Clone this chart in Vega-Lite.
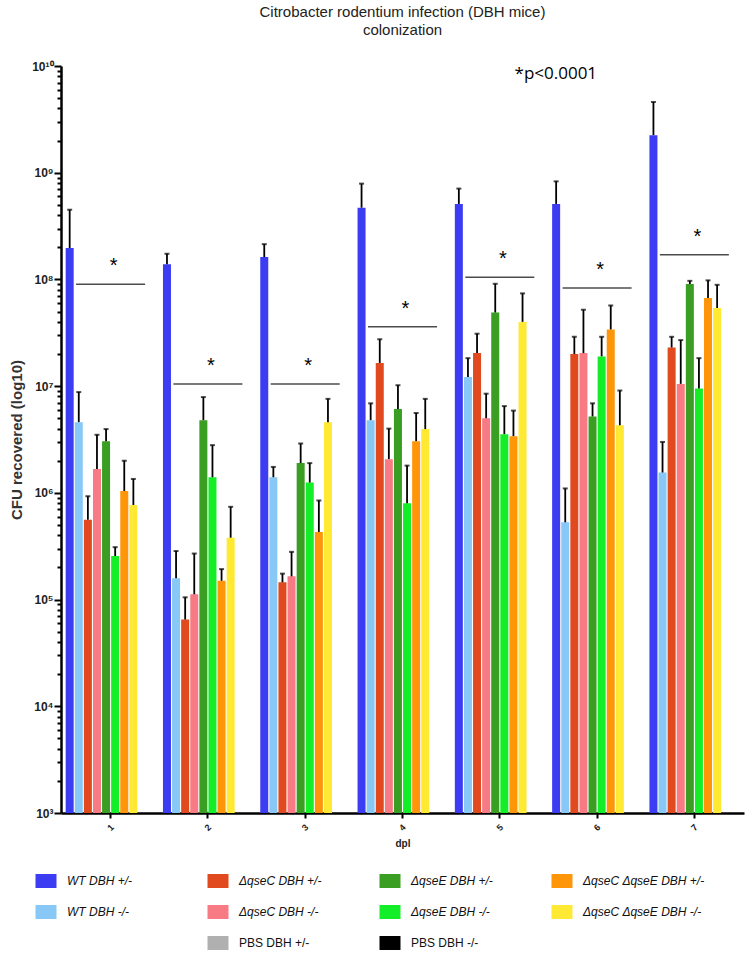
{
  "$schema": "https://vega.github.io/schema/vega-lite/v6.json",
  "width": 683,
  "height": 747,
  "padding": {"left": 9, "top": 5, "right": 5, "bottom": 0},
  "config": {"view": {"stroke": null}, "font": "Liberation Sans"},
  "title": {
    "text": ["Citrobacter rodentium infection (DBH mice)", "colonization"],
    "fontSize": 15,
    "fontWeight": "normal",
    "font": "Liberation Sans",
    "color": "#222222",
    "lineHeight": 18,
    "offset": 22
  },
  "datasets": {
    "bars": [
      {"d": "1", "g": "WT DBH +/-", "v": 1.97e8, "e": 4.5e8},
      {"d": "1", "g": "WT DBH -/-", "v": 4.6e6, "e": 8.8e6},
      {"d": "1", "g": "ΔqseC DBH +/-", "v": 5.6e5, "e": 9.3e5},
      {"d": "1", "g": "ΔqseC DBH -/-", "v": 1.67e6, "e": 3.5e6},
      {"d": "1", "g": "ΔqseE DBH +/-", "v": 3.05e6, "e": 3.96e6},
      {"d": "1", "g": "ΔqseE DBH -/-", "v": 2.56e5, "e": 3.1e5},
      {"d": "1", "g": "ΔqseC ΔqseE DBH +/-", "v": 1.04e6, "e": 2.0e6},
      {"d": "1", "g": "ΔqseC ΔqseE DBH -/-", "v": 7.7e5, "e": 1.35e6},
      {"d": "2", "g": "WT DBH +/-", "v": 1.39e8, "e": 1.74e8},
      {"d": "2", "g": "WT DBH -/-", "v": 1.58e5, "e": 2.85e5},
      {"d": "2", "g": "ΔqseC DBH +/-", "v": 6.5e4, "e": 1.05e5},
      {"d": "2", "g": "ΔqseC DBH -/-", "v": 1.12e5, "e": 2.7e5},
      {"d": "2", "g": "ΔqseE DBH +/-", "v": 4.8e6, "e": 7.9e6},
      {"d": "2", "g": "ΔqseE DBH -/-", "v": 1.4e6, "e": 2.8e6},
      {"d": "2", "g": "ΔqseC ΔqseE DBH +/-", "v": 1.5e5, "e": 1.93e5},
      {"d": "2", "g": "ΔqseC ΔqseE DBH -/-", "v": 3.8e5, "e": 7.4e5},
      {"d": "3", "g": "WT DBH +/-", "v": 1.62e8, "e": 2.14e8},
      {"d": "3", "g": "WT DBH -/-", "v": 1.4e6, "e": 1.75e6},
      {"d": "3", "g": "ΔqseC DBH +/-", "v": 1.45e5, "e": 1.75e5},
      {"d": "3", "g": "ΔqseC DBH -/-", "v": 1.65e5, "e": 2.8e5},
      {"d": "3", "g": "ΔqseE DBH +/-", "v": 1.9e6, "e": 2.9e6},
      {"d": "3", "g": "ΔqseE DBH -/-", "v": 1.25e6, "e": 1.9e6},
      {"d": "3", "g": "ΔqseC ΔqseE DBH +/-", "v": 4.3e5, "e": 8.5e5},
      {"d": "3", "g": "ΔqseC ΔqseE DBH -/-", "v": 4.6e6, "e": 7.6e6},
      {"d": "4", "g": "WT DBH +/-", "v": 4.7e8, "e": 7.9e8},
      {"d": "4", "g": "WT DBH -/-", "v": 4.8e6, "e": 6.9e6},
      {"d": "4", "g": "ΔqseC DBH +/-", "v": 1.65e7, "e": 2.75e7},
      {"d": "4", "g": "ΔqseC DBH -/-", "v": 2.07e6, "e": 4.0e6},
      {"d": "4", "g": "ΔqseE DBH +/-", "v": 6.1e6, "e": 1.02e7},
      {"d": "4", "g": "ΔqseE DBH -/-", "v": 8.0e5, "e": 1.8e6},
      {"d": "4", "g": "ΔqseC ΔqseE DBH +/-", "v": 3.05e6, "e": 5.6e6},
      {"d": "4", "g": "ΔqseC ΔqseE DBH -/-", "v": 3.96e6, "e": 7.6e6},
      {"d": "5", "g": "WT DBH +/-", "v": 5.1e8, "e": 7.1e8},
      {"d": "5", "g": "WT DBH -/-", "v": 1.22e7, "e": 1.83e7},
      {"d": "5", "g": "ΔqseC DBH +/-", "v": 2.04e7, "e": 3.1e7},
      {"d": "5", "g": "ΔqseC DBH -/-", "v": 5.0e6, "e": 8.5e6},
      {"d": "5", "g": "ΔqseE DBH +/-", "v": 4.9e7, "e": 9.1e7},
      {"d": "5", "g": "ΔqseE DBH -/-", "v": 3.55e6, "e": 6.5e6},
      {"d": "5", "g": "ΔqseC ΔqseE DBH +/-", "v": 3.4e6, "e": 5.9e6},
      {"d": "5", "g": "ΔqseC ΔqseE DBH -/-", "v": 4.0e7, "e": 7.4e7},
      {"d": "6", "g": "WT DBH +/-", "v": 5.1e8, "e": 8.3e8},
      {"d": "6", "g": "WT DBH -/-", "v": 5.3e5, "e": 1.1e6},
      {"d": "6", "g": "ΔqseC DBH +/-", "v": 2.0e7, "e": 2.9e7},
      {"d": "6", "g": "ΔqseC DBH -/-", "v": 2.04e7, "e": 5.2e7},
      {"d": "6", "g": "ΔqseE DBH +/-", "v": 5.2e6, "e": 6.9e6},
      {"d": "6", "g": "ΔqseE DBH -/-", "v": 1.9e7, "e": 2.9e7},
      {"d": "6", "g": "ΔqseC ΔqseE DBH +/-", "v": 3.4e7, "e": 5.7e7},
      {"d": "6", "g": "ΔqseC ΔqseE DBH -/-", "v": 4.3e6, "e": 9.1e6},
      {"d": "7", "g": "WT DBH +/-", "v": 2.25e9, "e": 4.6e9},
      {"d": "7", "g": "WT DBH -/-", "v": 1.55e6, "e": 3.0e6},
      {"d": "7", "g": "ΔqseC DBH +/-", "v": 2.3e7, "e": 2.9e7},
      {"d": "7", "g": "ΔqseC DBH -/-", "v": 1.05e7, "e": 2.7e7},
      {"d": "7", "g": "ΔqseE DBH +/-", "v": 9.06e7, "e": 9.7e7},
      {"d": "7", "g": "ΔqseE DBH -/-", "v": 9.5e6, "e": 1.83e7},
      {"d": "7", "g": "ΔqseC ΔqseE DBH +/-", "v": 6.7e7, "e": 9.8e7},
      {"d": "7", "g": "ΔqseC ΔqseE DBH -/-", "v": 5.4e7, "e": 8.9e7}
    ],
    "sig": [
      {"d": "1", "y": 9.0e7},
      {"d": "2", "y": 1.05e7},
      {"d": "3", "y": 1.05e7},
      {"d": "4", "y": 3.6e7},
      {"d": "5", "y": 1.05e8},
      {"d": "6", "y": 8.3e7},
      {"d": "7", "y": 1.7e8}
    ],
    "note": [{"d": "6", "y": 8.4e9, "t": "*p<0.0001"}]
  },
  "layer": [
    {
      "data": {"name": "bars"},
      "mark": {"type": "bar", "opacity": 1},
      "encoding": {
        "x": {
          "field": "d", "type": "nominal",
          "scale": {"paddingInner": 0.076, "paddingOuter": 0.048},
          "axis": {
            "title": "dpl",
            "titleFontSize": 10,
            "titleFontWeight": "bold",
            "titleColor": "#222222",
            "titlePadding": 6,
            "labelAngle": -45,
            "labelAlign": "center",
            "labelBaseline": "middle",
            "labelPadding": 9,
            "labelFontSize": 9,
            "labelFontWeight": "bold",
            "labelColor": "#222222",
            "domainColor": "black",
            "domainWidth": 2.5,
            "tickColor": "black",
            "tickWidth": 2,
            "tickSize": 5
          }
        },
        "xOffset": {
          "field": "g", "type": "nominal",
          "scale": {
            "domain": ["WT DBH +/-", "WT DBH -/-", "ΔqseC DBH +/-", "ΔqseC DBH -/-", "ΔqseE DBH +/-", "ΔqseE DBH -/-", "ΔqseC ΔqseE DBH +/-", "ΔqseC ΔqseE DBH -/-", "PBS DBH +/-", "PBS DBH -/-"],
            "paddingInner": 0.12,
            "paddingOuter": 0
          }
        },
        "y": {
          "field": "v", "type": "quantitative",
          "scale": {"type": "log", "domain": [1000, 10000000000], "nice": false},
          "axis": {
            "title": "CFU recovered (log10)",
            "titleFontSize": 15,
            "titleFontWeight": "bold",
            "titleColor": "#333333",
            "titlePadding": 7,
            "grid": false,
            "values": [1000, 2000, 3000, 4000, 5000, 6000, 7000, 8000, 9000, 10000, 20000, 30000, 40000, 50000, 60000, 70000, 80000, 90000, 100000, 200000, 300000, 400000, 500000, 600000, 700000, 800000, 900000, 1000000, 2000000, 3000000, 4000000, 5000000, 6000000, 7000000, 8000000, 9000000, 10000000, 20000000, 30000000, 40000000, 50000000, 60000000, 70000000, 80000000, 90000000, 100000000, 200000000, 300000000, 400000000, 500000000, 600000000, 700000000, 800000000, 900000000, 1000000000, 2000000000, 3000000000, 4000000000, 5000000000, 6000000000, 7000000000, 8000000000, 9000000000, 10000000000],
            "labelExpr": "datum.value==1e10?'10¹⁰':datum.value==1e9?'10⁹':datum.value==1e8?'10⁸':datum.value==1e7?'10⁷':datum.value==1e6?'10⁶':datum.value==1e5?'10⁵':datum.value==1e4?'10⁴':datum.value==1e3?'10³':''",
            "labelFontSize": 12,
            "labelFontWeight": "bold",
            "labelColor": "#222222",
            "labelPadding": 1,
            "labelOverlap": false,
            "labelBound": false,
            "domainColor": "black",
            "domainWidth": 2.5,
            "tickColor": "black",
            "tickWidth": 2,
            "tickSize": {"condition": {"test": "datum.value==1e3||datum.value==1e4||datum.value==1e5||datum.value==1e6||datum.value==1e7||datum.value==1e8||datum.value==1e9||datum.value==1e10", "value": 7}, "value": 4}
          }
        },
        "y2": {"datum": 1000},
        "color": {
          "field": "g", "type": "nominal",
          "scale": {
            "domain": ["WT DBH +/-", "ΔqseC DBH +/-", "ΔqseE DBH +/-", "ΔqseC ΔqseE DBH +/-", "WT DBH -/-", "ΔqseC DBH -/-", "ΔqseE DBH -/-", "ΔqseC ΔqseE DBH -/-", " ", "PBS DBH +/-", "PBS DBH -/-"],
            "range": ["#3c3cf2", "#e04a1e", "#3a9e22", "#ff9508", "#87c8f7", "#f77a85", "#14ee28", "#ffe933", "#ffffff", "#b0b0b0", "#000000"]
          },
          "legend": {
            "title": null,
            "orient": "none",
            "legendX": -22,
            "legendY": 808,
            "direction": "horizontal",
            "columns": 4,
            "gridAlign": "all",
            "columnPadding": 18,
            "rowPadding": 17,
            "symbolType": "M-1.5,-1H1.5V1H-1.5Z",
            "symbolSize": 196,
            "symbolStrokeWidth": 0,
            "symbolOpacity": 1,
            "labelOffset": 14,
            "labelFontSize": 12,
            "labelColor": "#111111",
            "labelLimit": 200,
            "labelFontStyle": {"expr": "indexof(datum.label, 'PBS') == 0 ? 'normal' : 'italic'"}
          }
        }
      }
    },
    {
      "data": {"name": "bars"},
      "mark": {"type": "rule", "color": "black", "strokeWidth": 1.8},
      "encoding": {
        "x": {"field": "d", "type": "nominal"},
        "xOffset": {"field": "g", "type": "nominal"},
        "y": {"field": "v", "type": "quantitative"},
        "y2": {"field": "e"}
      }
    },
    {
      "data": {"name": "bars"},
      "mark": {"type": "tick", "color": "black", "thickness": 2, "size": 5, "orient": "horizontal"},
      "encoding": {
        "x": {"field": "d", "type": "nominal"},
        "xOffset": {"field": "g", "type": "nominal"},
        "y": {"field": "e", "type": "quantitative"}
      }
    },
    {
      "data": {"name": "sig"},
      "mark": {"type": "tick", "color": "black", "thickness": 1.5, "size": 69, "orient": "horizontal"},
      "encoding": {
        "x": {"field": "d", "type": "nominal"},
        "y": {"field": "y", "type": "quantitative"}
      }
    },
    {
      "data": {"name": "sig"},
      "mark": {"type": "text", "text": "*", "fontSize": 20, "dy": -18, "dx": 3, "color": "black"},
      "encoding": {
        "x": {"field": "d", "type": "nominal"},
        "y": {"field": "y", "type": "quantitative"}
      }
    },
    {
      "data": {"name": "note"},
      "mark": {"type": "text", "align": "right", "baseline": "middle", "fontSize": 17, "font": "Open Sans", "color": "black"},
      "encoding": {
        "x": {"field": "d", "type": "nominal"},
        "y": {"field": "y", "type": "quantitative"},
        "text": {"field": "t"}
      }
    }
  ]
}
